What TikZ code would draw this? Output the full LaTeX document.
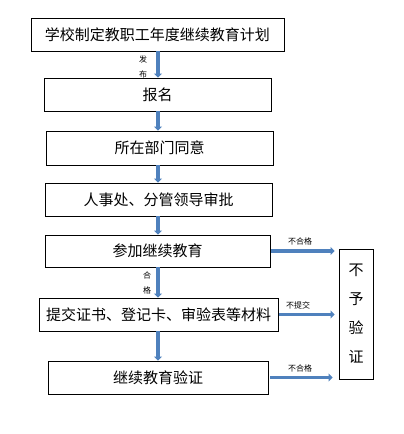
\documentclass[tikz,border=0pt]{standalone}
\usepackage{fontspec}
\setmainfont{Noto Sans CJK SC}
\usepackage{tikz}
\usepackage{xcolor}
\usetikzlibrary{arrows.meta, positioning}

\definecolor{arrowblue}{RGB}{79,129,189}

\begin{document}
\begin{tikzpicture}[x=1pt, y=-1pt]
\tikzstyle{stage}=[rectangle, minimum height=33pt, inner sep=0pt, text centered, draw=black, line width=0.8pt, font=\fontsize{15}{18}\selectfont]
\tikzstyle{arrow}=[arrowblue, line width=3.5pt, -{Triangle[length=4pt, width=8pt]}]
\tikzstyle{note}=[inner sep=0pt, font=\fontsize{8}{15}\selectfont, align=center]

\useasboundingbox (0,0) rectangle (404,434);

\node (plan) [stage, minimum width=253pt] at (157.5,34.5) {学校制定教职工年度继续教育计划};
\node (signup) [stage, minimum width=227pt] at (157.5,94.5) {报名};
\node (dept) [stage, minimum width=227pt, minimum height=34pt] at (159.5,148) {所在部门同意};
\node (approve) [stage, minimum width=227pt] at (158.5,199.5) {人事处、分管领导审批};
\node (study) [stage, minimum width=225pt, minimum height=32pt] at (157.5,251) {参加继续教育};
\node (submit) [stage, minimum width=239pt] at (158.5,314.5) {提交证书、登记卡、审验表等材料};
\node (verify) [stage, minimum width=220pt] at (158,377.5) {继续教育验证};
\node (reject) [stage, minimum width=34pt, minimum height=130pt, align=center, text width=20pt, font=\fontsize{15}{29}\selectfont] at (356,314) {不\\予\\验\\证};

\draw [arrow] ([xshift=0.5pt]plan.south) -- ([xshift=0.5pt]plan.south |- signup.north);
\draw [arrow] ([xshift=0.5pt]signup.south) -- ([xshift=0.5pt]signup.south |- dept.north);
\draw [arrow] ([xshift=-1.5pt]dept.south) -- ([xshift=-1.5pt]dept.south |- approve.north);
\draw [arrow] ([xshift=-0.5pt]approve.south) -- ([xshift=-0.5pt]approve.south |- study.north);
\draw [arrow] ([xshift=0.5pt]study.south) -- ([xshift=0.5pt]study.south |- submit.north);
\draw [arrow] ([xshift=-0.5pt]submit.south) -- ([xshift=-0.5pt]submit.south |- verify.north);

\draw [arrow] ([xshift=1pt]study.east) -- ([xshift=-4pt]reject.west |- study.east);
\draw [arrow] ([xshift=1pt]submit.east) -- ([xshift=-4pt]reject.west |- submit.east);
\draw [arrow] ([xshift=2pt]verify.east) -- ([xshift=-6pt]reject.west |- verify.east);

\node (publish) [note] at (143,67) {发\\布};
\node (pass) [note] at (147,283) {合\\格};
\node (fail1) [note] at (300,241) {不合格};
\node (nosubmit) [note] at (298,305) {不提交};
\node (fail2) [note] at (300,368) {不合格};

\end{tikzpicture}
\end{document}
